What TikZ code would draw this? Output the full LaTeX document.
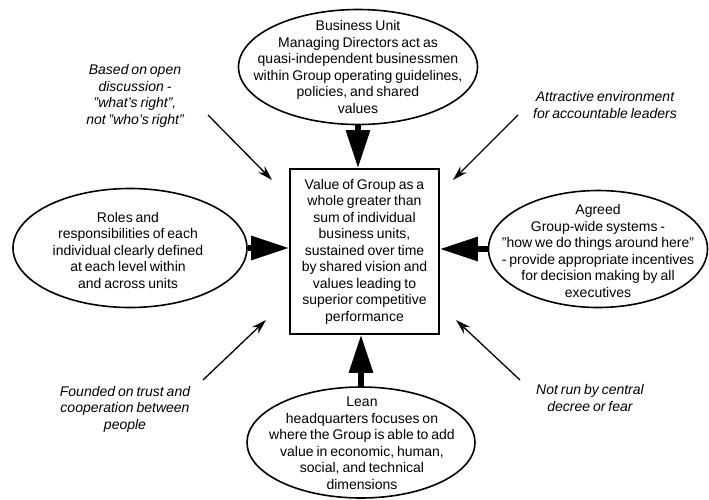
\documentclass[tikz,border=0pt]{standalone}
\usepackage{fontspec}
\setmainfont{Liberation Sans}[WordSpace=0.75]
\usetikzlibrary{shapes.geometric,arrows.meta,calc}
\newcommand{\sq}{\char34\relax}
\newcommand{\ap}{\char39\relax}
\begin{document}
\begin{tikzpicture}[x=1pt,y=-1pt,
  txt/.style={font=\fontsize{14}{16.5}\selectfont, align=center, inner sep=0pt},
  oval/.style={draw, ellipse, line width=1.6pt, inner sep=0pt},
  note/.style={font=\fontsize{14}{16.5}\selectfont\itshape, align=center, inner sep=0pt},
  bigarrow/.style={line width=6pt, -{Triangle[length=38pt,width=23pt]}},
  thinarrow/.style={line width=1.3pt, -{Stealth[length=15pt,width=9pt]}}]
\useasboundingbox (0,0) rectangle (709,499);

% central box
\node[draw, line width=1.6pt, minimum width=149pt, minimum height=165pt, txt] (box) at (364.5,251.5)
 {Value of Group as a\\ whole greater than\\ sum of individual\\ business units,\\ sustained over time\\ by shared vision and\\ values leading to\\ superior competitive\\ performance};

% ellipses
\node[oval, minimum width=239pt, minimum height=115pt] (top) at (358,67) {};
\node[txt] (toptxt) at (top) {Business Unit\\ Managing Directors act as\\ quasi-independent businessmen\\ within Group operating guidelines,\\ policies, and shared\\ values};

\node[oval, minimum width=234pt, minimum height=119pt] (left) at (130,248) {};
\node[txt] (lefttxt) at (128,250) {Roles and\\ responsibilities of each\\ individual clearly defined\\ at each level within\\ and across units};

\node[oval, minimum width=219pt, minimum height=117pt] (right) at (598,249) {};
\node[txt] (righttxt) at (598,251) {Agreed\\ Group-wide systems -\\ \sq how we do things around here\sq\\ - provide appropriate incentives\\ for decision making by all\\ executives};

\node[oval, minimum width=228pt, minimum height=111pt] (bottom) at (361,442.5) {};
\node[txt] (bottomtxt) at (362,443) {Lean\\ headquarters focuses on\\ where the Group is able to add\\ value in economic, human,\\ social, and technical\\ dimensions};

% thick arrows
\draw[bigarrow] (top.south) -- (top.south |- box.north);
\draw[bigarrow] (left.east) -- (left.east -| box.west);
\draw[bigarrow] (right.west) -- (right.west -| box.east);
\draw[bigarrow] (bottom.north) -- (bottom.north |- box.south);

% italic notes
\node[note] (n1) at (135,96) {Based on open\\ discussion -\\ \sq what\ap s right\sq ,\\ not \sq who\ap s right\sq};
\node[note] (n2) at (605,105) {Attractive environment\\ for accountable leaders};
\node[note] (n3) at (125,409) {Founded on trust and\\ cooperation between\\ people};
\node[note] (n4) at (590,398) {Not run by central\\ decree or fear};

% thin arrows
\coordinate (a1s) at (208,115); \coordinate (a1e) at (272,180);
\coordinate (a2s) at (518,115); \coordinate (a2e) at (453,180);
\coordinate (a3s) at (203,380); \coordinate (a3e) at (266,320);
\coordinate (a4s) at (520,380); \coordinate (a4e) at (456,320);
\draw[thinarrow] (a1s) -- (a1e);
\draw[thinarrow] (a2s) -- (a2e);
\draw[thinarrow] (a3s) -- (a3e);
\draw[thinarrow] (a4s) -- (a4e);
\end{tikzpicture}
\end{document}
